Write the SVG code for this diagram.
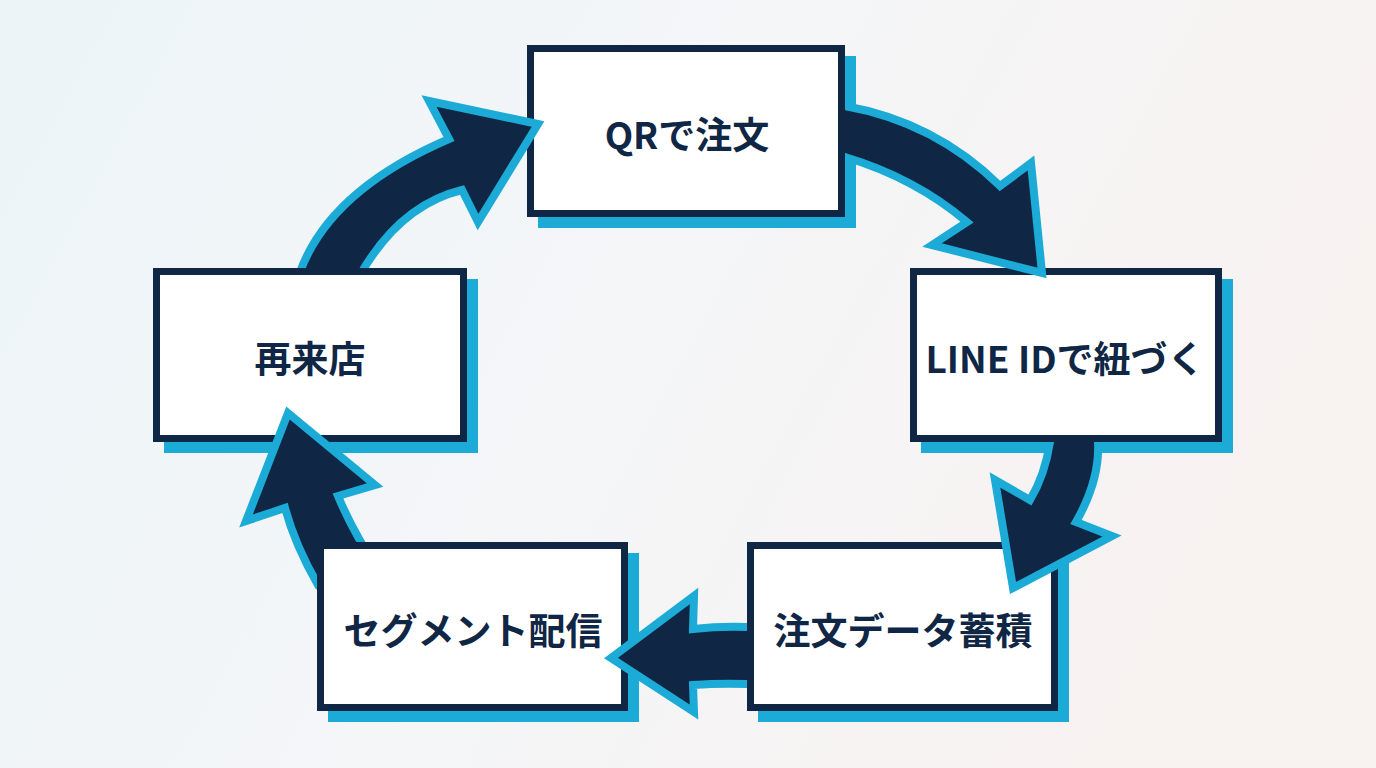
<svg xmlns="http://www.w3.org/2000/svg" width="1376" height="768" viewBox="0 0 1376 768">
  <defs>
    <linearGradient id="bg" x1="0" y1="0" x2="1" y2="0.3">
      <stop offset="0" stop-color="#ecf4f8"/>
      <stop offset="0.5" stop-color="#f4f6f8"/>
      <stop offset="1" stop-color="#f8f2f1"/>
    </linearGradient>
    <clipPath id="c1"><path clip-rule="evenodd" d="M0,0H1376V768H0Z M527,45V217H845V45Z"/></clipPath>
    <clipPath id="c2"><path clip-rule="evenodd" d="M0,0H1376V768H0Z M910,268V442H1222V268Z"/></clipPath>
    <clipPath id="c3"><path clip-rule="evenodd" d="M0,0H1376V768H0Z M747,542V711H1058V542Z"/></clipPath>
    <clipPath id="c4"><path clip-rule="evenodd" d="M0,0H1376V768H0Z M317,542V711H628V542Z"/></clipPath>
    <clipPath id="c5"><path clip-rule="evenodd" d="M0,0H1376V768H0Z M153,268V442H467V268Z"/></clipPath>
  </defs>
  <style>
    .shadow { fill: #1caad6; }
    .box { fill: #ffffff; stroke: #0f2645; stroke-width: 7; }
    .label { font-family: "Noto Sans CJK JP", "Noto Sans", sans-serif; font-weight: 700; font-size: 37px; fill: #0f2645; text-anchor: middle; dominant-baseline: central; }
    .arrow { fill: #0f2645; stroke: #1caad6; stroke-width: 8; stroke-linejoin: miter; stroke-miterlimit: 10; }
  </style>
  <rect width="1376" height="768" fill="url(#bg)"/>

  <g id="node-qr">
    <rect class="shadow" x="538" y="56" width="318" height="172"/>
    <rect class="box" x="530.5" y="48.5" width="311" height="165"/>
    <text class="label" x="687" y="133">QRで注文</text>
  </g>
  <g id="node-line">
    <rect class="shadow" x="921" y="279" width="312" height="174"/>
    <rect class="box" x="913.5" y="271.5" width="305" height="167"/>
    <text class="label" x="1065" y="357">LINE IDで紐づく</text>
  </g>
  <g id="node-data">
    <rect class="shadow" x="758" y="553" width="311" height="169"/>
    <rect class="box" x="750.5" y="545.5" width="304" height="162"/>
    <text class="label" x="903" y="629">注文データ蓄積</text>
  </g>
  <g id="node-segment">
    <rect class="shadow" x="328" y="553" width="311" height="169"/>
    <rect class="box" x="320.5" y="545.5" width="304" height="162"/>
    <text class="label" x="473" y="629">セグメント配信</text>
  </g>
  <g id="node-revisit">
    <rect class="shadow" x="164" y="279" width="314" height="174"/>
    <rect class="box" x="156.5" y="271.5" width="307" height="167"/>
    <text class="label" x="310" y="357">再来店</text>
  </g>

  <g id="connectors">
    <path class="arrow" clip-path="url(#c1)" d="M825,106 L845,106 Q935,122 1000,186 L1031,163 L1042,273 L932,245 L967,222 Q915,178 845,157 L825,157 Z"/>
    <path class="arrow" clip-path="url(#c2)" d="M1051,425 L1050,442 Q1045,475 1030,500 L995,480 L1013,588 L1112,536 L1076,522 Q1100,480 1098,442 L1099,425 Z"/>
    <path class="arrow" clip-path="url(#c3)" d="M765,627 L747,627 Q720,626 693,629 L694,596 L611,658 L694,712 L693,685 Q720,683 747,684 L765,684 Z"/>
    <path class="arrow" clip-path="url(#c4)" d="M318,585 Q295,545 285,508 L246,521 L288,413 L375,485 L338,496 Q352,530 378,570 Z"/>
    <path class="arrow" clip-path="url(#c5)" d="M295,290 L300,272 Q330,190 449,139 L429,101 L538,124 L478,222 L462,190 Q400,205 360,275 L355,290 Z"/>
  </g>
</svg>
